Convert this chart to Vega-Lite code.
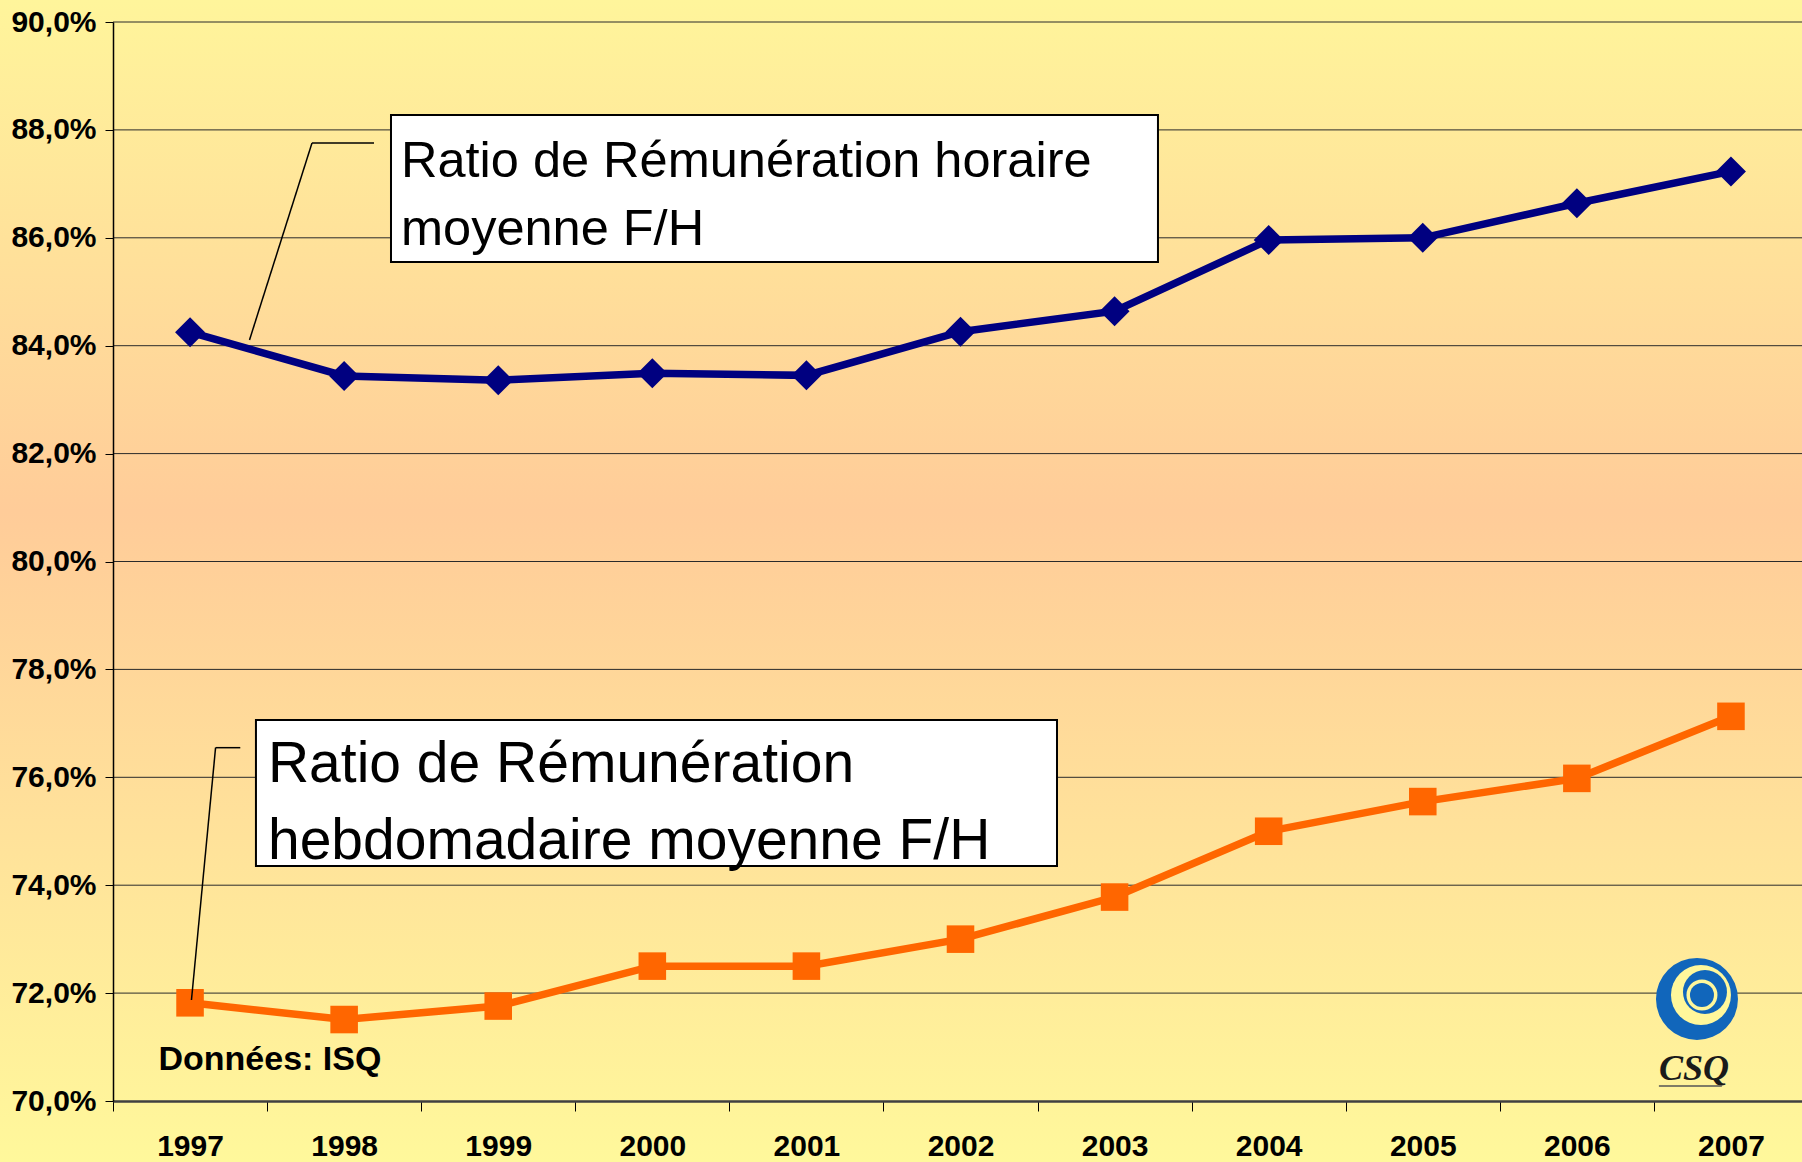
{
  "$schema": "https://vega.github.io/schema/vega-lite/v6.json",
  "width": 1689,
  "height": 1079,
  "autosize": {"type": "none"},
  "padding": {"left": 113, "top": 22, "right": 0, "bottom": 61},
  "background": "#FFF59B",
  "config": {
    "view": {"stroke": null},
    "font": "Liberation Sans",
    "axis": {"grid": false, "labelFont": "Liberation Sans", "labelFontWeight": "bold", "labelFontSize": 30, "labelColor": "#000000", "tickColor": "#000000"},
    "axisX": {"labelAngle": 0, "tickSize": 10, "tickWidth": 1, "labelPadding": 20, "domainColor": "#404040", "domainWidth": 2.5, "tickBand": "extent"},
    "axisY": {"tickSize": 8, "tickWidth": 1, "labelPadding": 9, "domainColor": "#000000", "domainWidth": 1.5}
  },
  "data": {
    "values": [
      {"annee": "1997", "serie": "horaire", "ratio": 84.25},
      {"annee": "1998", "serie": "horaire", "ratio": 83.44},
      {"annee": "1999", "serie": "horaire", "ratio": 83.36},
      {"annee": "2000", "serie": "horaire", "ratio": 83.49},
      {"annee": "2001", "serie": "horaire", "ratio": 83.45},
      {"annee": "2002", "serie": "horaire", "ratio": 84.26},
      {"annee": "2003", "serie": "horaire", "ratio": 84.64},
      {"annee": "2004", "serie": "horaire", "ratio": 85.96},
      {"annee": "2005", "serie": "horaire", "ratio": 86.0},
      {"annee": "2006", "serie": "horaire", "ratio": 86.64},
      {"annee": "2007", "serie": "horaire", "ratio": 87.23},
      {"annee": "1997", "serie": "hebdomadaire", "ratio": 71.82},
      {"annee": "1998", "serie": "hebdomadaire", "ratio": 71.51},
      {"annee": "1999", "serie": "hebdomadaire", "ratio": 71.76},
      {"annee": "2000", "serie": "hebdomadaire", "ratio": 72.5},
      {"annee": "2001", "serie": "hebdomadaire", "ratio": 72.5},
      {"annee": "2002", "serie": "hebdomadaire", "ratio": 73.0},
      {"annee": "2003", "serie": "hebdomadaire", "ratio": 73.78},
      {"annee": "2004", "serie": "hebdomadaire", "ratio": 75.0},
      {"annee": "2005", "serie": "hebdomadaire", "ratio": 75.55},
      {"annee": "2006", "serie": "hebdomadaire", "ratio": 75.98},
      {"annee": "2007", "serie": "hebdomadaire", "ratio": 77.13}
    ]
  },
  "resolve": {"scale": {"x": "independent"}},
  "layer": [
    {
      "data": {"values": [{}]},
      "mark": {
        "type": "rect",
        "fill": {
          "gradient": "linear", "x1": 0, "y1": 0, "x2": 0, "y2": 1,
          "stops": [
            {"offset": 0, "color": "#FFF59B"},
            {"offset": 0.44, "color": "#FFCC99"},
            {"offset": 1, "color": "#FFF89B"}
          ]
        }
      },
      "encoding": {
        "x": {"datum": 1995.764, "type": "quantitative", "scale": {"domain": [1996.5, 2007.5], "nice": false, "zero": false}, "axis": null},
        "x2": {"datum": 2007.5},
        "y": {"datum": 90.408, "type": "quantitative", "scale": {"domain": [70, 90], "nice": false, "zero": false}},
        "y2": {"datum": 68.869}
      }
    },
    {
      "data": {"values": [{"grille": 72}, {"grille": 74}, {"grille": 76}, {"grille": 78}, {"grille": 80}, {"grille": 82}, {"grille": 84}, {"grille": 86}, {"grille": 88}, {"grille": 90}]},
      "mark": {"type": "rule", "color": "#2a2a2a", "strokeWidth": 1},
      "encoding": {
        "y": {"field": "grille", "type": "quantitative", "title": null}
      }
    },
    {
      "layer": [
        {
          "mark": {"type": "line", "strokeWidth": 7.5},
          "encoding": {
            "x": {"field": "annee", "type": "ordinal", "title": null, "scale": {"type": "band", "paddingInner": 0, "paddingOuter": 0, "range": [0, 1695]}, "axis": {"zindex": 1, "labelAngle": 0}},
            "y": {"field": "ratio", "type": "quantitative", "title": null, "scale": {"domain": [70, 90], "nice": false, "zero": false},
                  "axis": {"zindex": 1, "values": [70, 72, 74, 76, 78, 80, 82, 84, 86, 88, 90], "labelExpr": "replace(format(datum.value, '.1f'), '.', ',') + '%'"}},
            "color": {"field": "serie", "type": "nominal", "scale": {"domain": ["horaire", "hebdomadaire"], "range": ["#000080", "#FF6600"]}, "legend": null}
          }
        },
        {
          "transform": [{"filter": "datum.serie === 'horaire'"}],
          "mark": {"type": "point", "filled": true, "opacity": 1, "shape": "diamond", "size": 900, "color": "#000080"},
          "encoding": {
            "x": {"field": "annee", "type": "ordinal", "title": null},
            "y": {"field": "ratio", "type": "quantitative", "title": null}
          }
        },
        {
          "transform": [{"filter": "datum.serie === 'hebdomadaire'"}],
          "mark": {"type": "point", "filled": true, "opacity": 1, "shape": "square", "size": 760, "color": "#FF6600"},
          "encoding": {
            "x": {"field": "annee", "type": "ordinal", "title": null},
            "y": {"field": "ratio", "type": "quantitative", "title": null}
          }
        }
      ]
    },
    {
      "data": {"values": [{}]},
      "layer": [
        {
          "mark": {"type": "rule", "color": "#000000", "strokeWidth": 1.5},
          "encoding": {
            "x": {"datum": 1997.796, "type": "quantitative", "scale": {"domain": [1996.5, 2007.5], "nice": false, "zero": false}, "axis": null},
            "x2": {"datum": 1998.1998},
            "y": {"datum": 87.757, "type": "quantitative"},
            "y2": {"datum": 87.757}
          }
        },
        {
          "mark": {"type": "rule", "color": "#000000", "strokeWidth": 1.5},
          "encoding": {
            "x": {"datum": 1997.796, "type": "quantitative", "axis": null},
            "x2": {"datum": 1997.389},
            "y": {"datum": 87.757, "type": "quantitative"},
            "y2": {"datum": 84.106}
          }
        },
        {
          "mark": {"type": "rule", "color": "#000000", "strokeWidth": 1.5},
          "encoding": {
            "x": {"datum": 1997.168, "type": "quantitative", "axis": null},
            "x2": {"datum": 1997.329},
            "y": {"datum": 76.549, "type": "quantitative"},
            "y2": {"datum": 76.549}
          }
        },
        {
          "mark": {"type": "rule", "color": "#000000", "strokeWidth": 1.5},
          "encoding": {
            "x": {"datum": 1997.168, "type": "quantitative", "axis": null},
            "x2": {"datum": 1997.011},
            "y": {"datum": 76.549, "type": "quantitative"},
            "y2": {"datum": 71.872}
          }
        },
        {
          "mark": {"type": "rect", "fill": "#FFFFFF", "stroke": "#000000", "strokeWidth": 2},
          "encoding": {
            "x": {"datum": 1998.3105, "type": "quantitative", "axis": null},
            "x2": {"datum": 2003.3056},
            "y": {"datum": 88.276, "type": "quantitative"},
            "y2": {"datum": 85.551}
          }
        },
        {
          "mark": {"type": "text", "text": ["Ratio de Rémunération horaire", "moyenne F/H"], "align": "left", "baseline": "alphabetic", "font": "Liberation Sans", "fontSize": 50.5, "lineHeight": 68, "color": "#000000"},
          "encoding": {
            "x": {"datum": 1998.3756, "type": "quantitative", "axis": null},
            "y": {"datum": 87.127, "type": "quantitative"}
          }
        },
        {
          "mark": {"type": "rect", "fill": "#FFFFFF", "stroke": "#000000", "strokeWidth": 2},
          "encoding": {
            "x": {"datum": 1997.431, "type": "quantitative", "axis": null},
            "x2": {"datum": 2002.648},
            "y": {"datum": 77.062, "type": "quantitative"},
            "y2": {"datum": 74.356}
          }
        },
        {
          "mark": {"type": "text", "text": ["Ratio de Rémunération", "hebdomadaire moyenne F/H"], "align": "left", "baseline": "alphabetic", "font": "Liberation Sans", "fontSize": 57, "lineHeight": 77, "color": "#000000"},
          "encoding": {
            "x": {"datum": 1997.509, "type": "quantitative", "axis": null},
            "y": {"datum": 75.913, "type": "quantitative"}
          }
        },
        {
          "mark": {"type": "text", "text": "Données: ISQ", "align": "left", "baseline": "alphabetic", "font": "Liberation Sans", "fontWeight": "bold", "fontSize": 34, "color": "#000000"},
          "encoding": {
            "x": {"datum": 1996.796, "type": "quantitative", "axis": null},
            "y": {"datum": 70.575, "type": "quantitative"}
          }
        },
        {
          "mark": {"type": "point", "shape": "circle", "filled": true, "opacity": 1, "size": 6724, "color": "#1166BB"},
          "encoding": {
            "x": {"datum": 2006.816, "type": "quantitative", "axis": null},
            "y": {"datum": 71.891, "type": "quantitative"}
          }
        },
        {
          "mark": {"type": "point", "shape": "circle", "filled": true, "opacity": 1, "size": 3600, "color": "#FFF79B"},
          "encoding": {
            "x": {"datum": 2006.842, "type": "quantitative", "axis": null},
            "y": {"datum": 71.9648, "type": "quantitative"}
          }
        },
        {
          "mark": {"type": "point", "shape": "circle", "filled": true, "opacity": 1, "size": 1936, "color": "#1166BB"},
          "encoding": {
            "x": {"datum": 2006.8681, "type": "quantitative", "axis": null},
            "y": {"datum": 72.0204, "type": "quantitative"}
          }
        },
        {
          "mark": {"type": "point", "shape": "circle", "filled": true, "opacity": 1, "size": 961, "color": "#FFF79B"},
          "encoding": {
            "x": {"datum": 2006.8485, "type": "quantitative", "axis": null},
            "y": {"datum": 71.9648, "type": "quantitative"}
          }
        },
        {
          "mark": {"type": "point", "shape": "circle", "filled": true, "opacity": 1, "size": 576, "color": "#1166BB"},
          "encoding": {
            "x": {"datum": 2006.8485, "type": "quantitative", "axis": null},
            "y": {"datum": 71.9648, "type": "quantitative"}
          }
        },
        {
          "mark": {"type": "text", "text": "CSQ", "align": "center", "baseline": "alphabetic", "font": "Liberation Serif", "fontWeight": "bold", "fontStyle": "italic", "fontSize": 36, "color": "#1A1A1A"},
          "encoding": {
            "x": {"datum": 2006.796, "type": "quantitative", "axis": null},
            "y": {"datum": 70.389, "type": "quantitative"}
          }
        },
        {
          "mark": {"type": "rule", "color": "#555555", "strokeWidth": 1.5},
          "encoding": {
            "x": {"datum": 2006.568, "type": "quantitative", "axis": null},
            "x2": {"datum": 2006.978},
            "y": {"datum": 70.278, "type": "quantitative"},
            "y2": {"datum": 70.278}
          }
        }
      ]
    }
  ]
}
